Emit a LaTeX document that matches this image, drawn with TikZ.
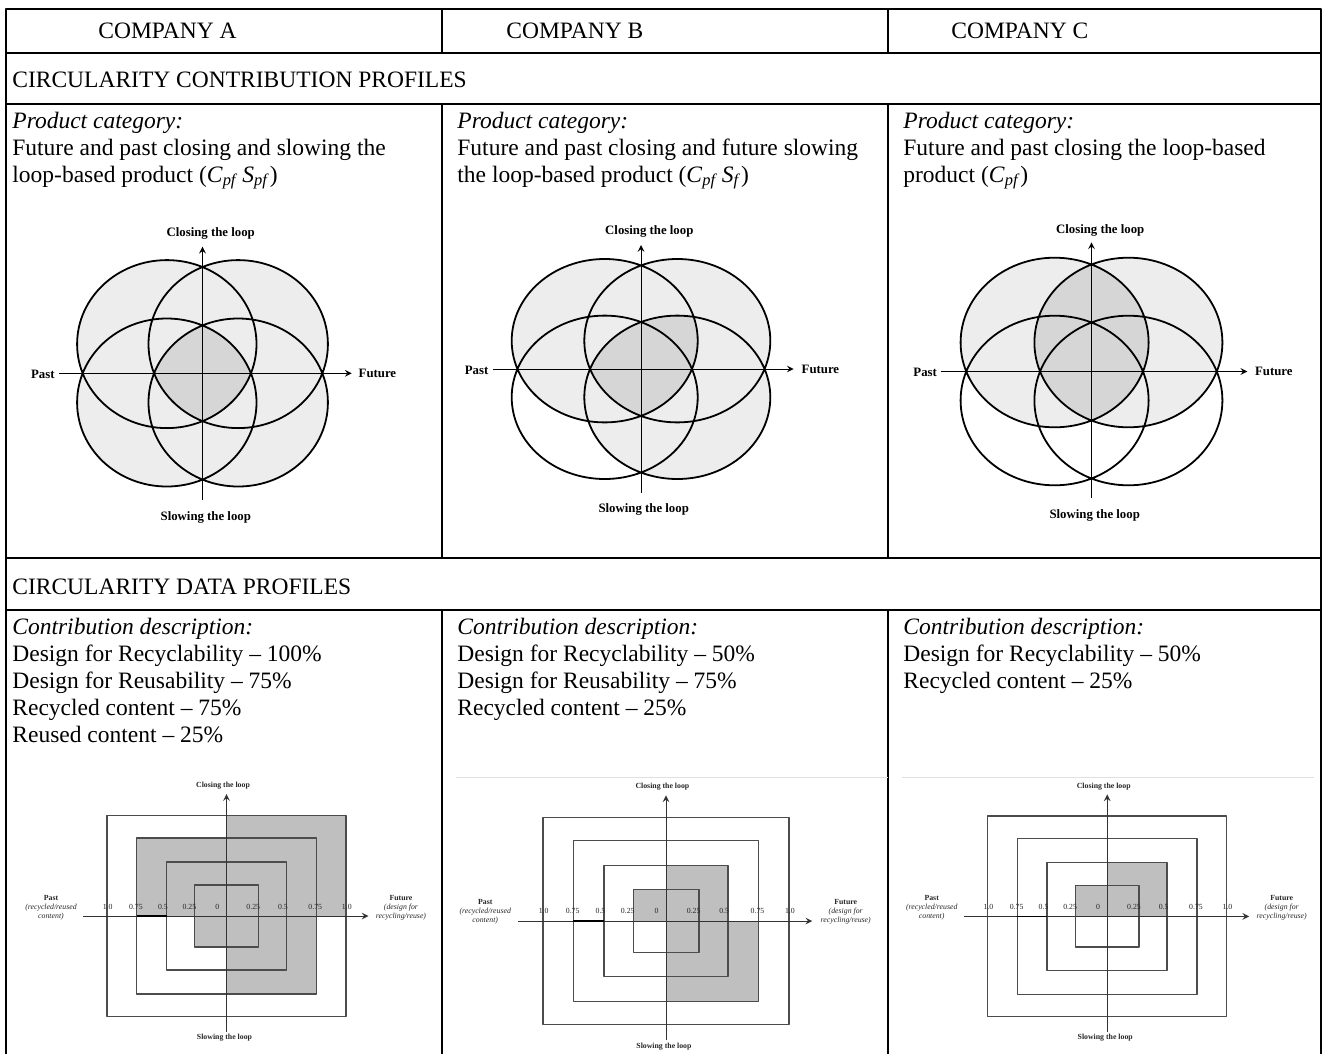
\documentclass[tikz,border=0pt]{standalone}
\usepackage{fontspec}
\setmainfont{Liberation Serif}
\usetikzlibrary{arrows}
\tikzset{
  tabline/.style={line width=1.1pt},
  txt/.style={anchor=base west, inner sep=0pt, font=\fontsize{11.75}{13.5}\selectfont},
  vlab/.style={inner sep=0pt, font=\fontsize{6.4}{7.5}\selectfont\bfseries},
  slab/.style={inner sep=0pt, font=\fontsize{3.9}{4.5}\selectfont, text=black!85},
  sbold/.style={inner sep=0pt, font=\fontsize{3.9}{4.5}\selectfont\bfseries, text=black!85},
  ring/.style={line width=0.9pt},
  light/.style={fill=black!7},
  dark/.style={fill=black!16},
  box/.style={draw=black!70, line width=0.75pt},
  shade/.style={fill=black!25},
  axis/.style={->, line width=0.5pt}
}
\begin{document}
\begin{tikzpicture}[x=0.5pt, y=-0.5pt, >=stealth, line join=round]
\useasboundingbox (0,0) rectangle (1325,1054);
% table
\draw[tabline] (6,1054) -- (6,9) -- (1321,9) -- (1321,1054);
\foreach \y in {53,104,558,610} \draw[tabline] (6,\y) -- (1321,\y);
\foreach \x in {442,888} \draw[tabline] (\x,9) -- (\x,53) (\x,104) -- (\x,558) (\x,610) -- (\x,1054);
% header
\node[txt] (compA) at (98,39) {COMPANY A};
\node[txt] (compB) at (506,39) {COMPANY B};
\node[txt] (compC) at (951,39) {COMPANY C};
\node[txt] (contrib) at (12,88) {CIRCULARITY CONTRIBUTION PROFILES};
\node[txt] (data) at (12,594) {CIRCULARITY DATA PROFILES};
% product categories
\node[txt] (catA) at (12,128) {\textit{Product category:}};
\node[txt] (catA1) at (12,155) {Future and past closing and slowing the};
\node[txt] (catA2) at (12,182) {loop-based product (\textit{C}\textsubscript{\textit{pf}}\,\textit{S}\textsubscript{\textit{pf}})};
\node[txt] (catB) at (457,128) {\textit{Product category:}};
\node[txt] (catB1) at (457,155) {Future and past closing and future slowing};
\node[txt] (catB2) at (457,182) {the loop-based product (\textit{C}\textsubscript{\textit{pf}}\,\textit{S}\textsubscript{\textit{f}})};
\node[txt] (catC) at (903,128) {\textit{Product category:}};
\node[txt] (catC1) at (903,155) {Future and past closing the loop-based};
\node[txt] (catC2) at (903,182) {product (\textit{C}\textsubscript{\textit{pf}})};
% contribution descriptions
\node[txt] (descA) at (12,634) {\textit{Contribution description:}};
\node[txt] (descA1) at (12,661) {Design for Recyclability – 100\%};
\node[txt] (descA2) at (12,688) {Design for Reusability – 75\%};
\node[txt] (descA3) at (12,715) {Recycled content – 75\%};
\node[txt] (descA4) at (12,742) {Reused content – 25\%};
\node[txt] (descB) at (457,634) {\textit{Contribution description:}};
\node[txt] (descB1) at (457,661) {Design for Recyclability – 50\%};
\node[txt] (descB2) at (457,688) {Design for Reusability – 75\%};
\node[txt] (descB3) at (457,715) {Recycled content – 25\%};
\node[txt] (descC) at (903,634) {\textit{Contribution description:}};
\node[txt] (descC1) at (903,661) {Design for Recyclability – 50\%};
\node[txt] (descC2) at (903,688) {Recycled content – 25\%};

% venn A: closing and slowing, past and future
\begin{scope}[shift={(202.5,373.3)}]
\def\ox{35.7}\def\oy{29.2}\def\rx{89.7}\def\ry{84}
\fill[light] (-\ox,-\oy) ellipse ({\rx} and {\ry}) (\ox,-\oy) ellipse ({\rx} and {\ry})
  (-\ox,\oy) ellipse ({\rx} and {\ry}) (\ox,\oy) ellipse ({\rx} and {\ry});
\begin{scope}
\clip (-\ox,-\oy) ellipse ({\rx} and {\ry});
\clip (\ox,-\oy) ellipse ({\rx} and {\ry});
\clip (-\ox,\oy) ellipse ({\rx} and {\ry});
\fill[dark] (\ox,\oy) ellipse ({\rx} and {\ry});
\end{scope}
\draw[ring] (-\ox,-\oy) ellipse ({\rx} and {\ry}) (\ox,-\oy) ellipse ({\rx} and {\ry})
  (-\ox,\oy) ellipse ({\rx} and {\ry}) (\ox,\oy) ellipse ({\rx} and {\ry});
\draw[axis] (0,126.7) -- (0,-126.6);
\draw[axis] (-143.5,0) -- (149.2,0);
\node[vlab] (closeA) at (8.2,-140.3) {Closing the loop};
\node[vlab] (slowA) at (3.3,143.7) {Slowing the loop};
\node[vlab, anchor=east] (pastA) at (-147.5,1) {Past};
\node[vlab, anchor=west] (futA) at (155.8,0) {Future};
\end{scope}

% venn B: closing past and future, slowing future
\begin{scope}[shift={(641,369)}]
\def\ox{36.3}\def\oy{28.3}\def\rx{93}\def\ry{81.7}
\fill[light] (-\ox,-\oy) ellipse ({\rx} and {\ry}) (\ox,-\oy) ellipse ({\rx} and {\ry})
  (\ox,\oy) ellipse ({\rx} and {\ry});
\begin{scope}
\clip (-\ox,-\oy) ellipse ({\rx} and {\ry});
\clip (\ox,-\oy) ellipse ({\rx} and {\ry});
\fill[dark] (\ox,\oy) ellipse ({\rx} and {\ry});
\end{scope}
\draw[ring] (-\ox,-\oy) ellipse ({\rx} and {\ry}) (\ox,-\oy) ellipse ({\rx} and {\ry})
  (-\ox,\oy) ellipse ({\rx} and {\ry}) (\ox,\oy) ellipse ({\rx} and {\ry});
\draw[axis] (0,123.7) -- (0,-124);
\draw[axis] (-148.3,0) -- (152.7,0);
\node[vlab] (closeB) at (8.3,-137.3) {Closing the loop};
\node[vlab] (slowB) at (2.7,140) {Slowing the loop};
\node[vlab, anchor=east] (pastB) at (-152.3,1) {Past};
\node[vlab, anchor=west] (futB) at (160.3,0) {Future};
\end{scope}

% venn C: closing past and future
\begin{scope}[shift={(1091.5,371.5)}]
\def\ox{36.9}\def\oy{29}\def\rx{94}\def\ry{84.8}
\fill[light] (-\ox,-\oy) ellipse ({\rx} and {\ry}) (\ox,-\oy) ellipse ({\rx} and {\ry});
\begin{scope}
\clip (-\ox,-\oy) ellipse ({\rx} and {\ry});
\fill[dark] (\ox,-\oy) ellipse ({\rx} and {\ry});
\end{scope}
\draw[ring] (-\ox,-\oy) ellipse ({\rx} and {\ry}) (\ox,-\oy) ellipse ({\rx} and {\ry})
  (-\ox,\oy) ellipse ({\rx} and {\ry}) (\ox,\oy) ellipse ({\rx} and {\ry});
\draw[axis] (0,126.8) -- (0,-129.2);
\draw[axis] (-150.2,0) -- (155.8,0);
\node[vlab] (closeC) at (8.7,-141.5) {Closing the loop};
\node[vlab] (slowC) at (3.2,144.2) {Slowing the loop};
\node[vlab, anchor=east] (pastC) at (-154.2,1) {Past};
\node[vlab, anchor=west] (futC) at (163.2,0) {Future};
\end{scope}

% faint rules above the data profiles
\draw[black!12, line width=0.5pt] (456,777.3) -- (888,777.3);
\draw[black!12, line width=0.5pt] (902,777.3) -- (1314,777.3);

% data profile A
\begin{scope}[shift={(226.5,916)}]
\fill[shade] (0,0) rectangle (119.5,-100.3);
\fill[shade] (-89.8,-78) rectangle (0,0);
\fill[shade] (-31.8,0) rectangle (0,30.8);
\fill[shade] (0,0) rectangle (89.8,78);
\foreach \w/\h in {119.5/100.3, 89.8/78, 60/54, 31.8/30.8} \draw[box] (-\w,-\h) rectangle (\w,\h);
\draw[axis, black!80] (0,116) -- (0,-122);
\draw[axis, black!80] (-143.5,0) -- (142,0);
\draw[line width=0.9pt] (-90,0) -- (-60,0);
\foreach \x/\t [count=\i] in {-118.8/1.0, -90.6/0.75, -63.6/0.5, -37.1/0.25, -9.1/0, 26.8/0.25, 56.5/0.5, 88.8/0.75, 120.3/1.0}
  \node[slab] (ta\i) at (\x,-9.5) {\t};
\node[sbold] (closeDA) at (-3.5,-130) {Closing the loop};
\node[sbold] (slowDA) at (-2,121.5) {Slowing the loop};
\node[slab, align=center] (pastDA) at (-175.5,-8.7) {\textbf{Past}\\\textit{(recycled/reused}\\\textit{content)}};
\node[slab, align=center] (futDA) at (174.5,-8.7) {\textbf{Future}\\\textit{(design for}\\\textit{recycling/reuse)}};
\end{scope}

% data profile B
\begin{scope}[shift={(666,921)}, scale=1.03]
\fill[shade] (0,0) rectangle (60,-54);
\fill[shade] (-31.8,-30.8) rectangle (0,0);
\fill[shade] (0,0) rectangle (89.8,78);
\foreach \w/\h in {119.5/100.3, 89.8/78, 60/54, 31.8/30.8} \draw[box] (-\w,-\h) rectangle (\w,\h);
\draw[axis, black!80] (0,116) -- (0,-122);
\draw[axis, black!80] (-143.5,0) -- (142,0);
\draw[line width=0.9pt] (-90,0) -- (-60,0);
\foreach \x/\t [count=\i] in {-118.8/1.0, -90.6/0.75, -63.6/0.5, -37.1/0.25, -9.1/0, 26.8/0.25, 56.5/0.5, 88.8/0.75, 120.3/1.0}
  \node[slab] (tb\i) at (\x,-9.5) {\t};
\node[sbold] (closeDB) at (-3.5,-130) {Closing the loop};
\node[sbold] (slowDB) at (-2,121.5) {Slowing the loop};
\node[slab, align=center] (pastDB) at (-175.5,-8.7) {\textbf{Past}\\\textit{(recycled/reused}\\\textit{content)}};
\node[slab, align=center] (futDB) at (174.5,-8.7) {\textbf{Future}\\\textit{(design for}\\\textit{recycling/reuse)}};
\end{scope}

% data profile C
\begin{scope}[shift={(1107.2,916.4)}]
\fill[shade] (0,0) rectangle (60,-54);
\fill[shade] (-31.8,-30.8) rectangle (0,0);
\foreach \w/\h in {119.5/100.3, 89.8/78, 60/54, 31.8/30.8} \draw[box] (-\w,-\h) rectangle (\w,\h);
\draw[axis, black!80] (0,116) -- (0,-122);
\draw[axis, black!80] (-143.5,0) -- (142,0);
\draw[line width=0.9pt] (-90,0) -- (-60,0);
\foreach \x/\t [count=\i] in {-118.8/1.0, -90.6/0.75, -63.6/0.5, -37.1/0.25, -9.1/0, 26.8/0.25, 56.5/0.5, 88.8/0.75, 120.3/1.0}
  \node[slab] (tc\i) at (\x,-9.5) {\t};
\node[sbold] (closeDC) at (-3.5,-130) {Closing the loop};
\node[sbold] (slowDC) at (-2,121.5) {Slowing the loop};
\node[slab, align=center] (pastDC) at (-175.5,-8.7) {\textbf{Past}\\\textit{(recycled/reused}\\\textit{content)}};
\node[slab, align=center] (futDC) at (174.5,-8.7) {\textbf{Future}\\\textit{(design for}\\\textit{recycling/reuse)}};
\end{scope}
\end{tikzpicture}
\end{document}
